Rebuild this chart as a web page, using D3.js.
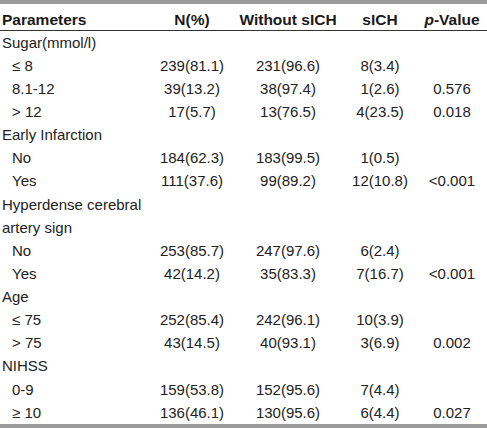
<!DOCTYPE html>
<html>
<head>
<meta charset="utf-8">
<script src="https://cdn.jsdelivr.net/npm/d3@7"></script>
<style>
  html, body { margin: 0; padding: 0; background: #fff; }
  svg { display: block; }
</style>
</head>
<body>
<svg id="chart" width="487" height="428"></svg>
<script>
// ---- data ----
const headers = ["Parameters", "N(%)", "Without sICH", "sICH", "p-Value"];
const labels = ["Sugar(mmol/l)", "≤ 8", "8.1-12", "> 12", "Early Infarction", "No", "Yes",
  "Hyperdense cerebral", "artery sign", "No", "Yes", "Age", "≤ 75", "> 75", "NIHSS", "0-9", "≥ 10"];
const indents = [0, 1, 1, 1, 0, 1, 1, 0, 0, 1, 1, 0, 1, 1, 0, 1, 1];
const nValues = ["", "239(81.1)", "39(13.2)", "17(5.7)", "", "184(62.3)", "111(37.6)", "", "",
  "253(85.7)", "42(14.2)", "", "252(85.4)", "43(14.5)", "", "159(53.8)", "136(46.1)"];
const withoutValues = ["", "231(96.6)", "38(97.4)", "13(76.5)", "", "183(99.5)", "99(89.2)", "", "",
  "247(97.6)", "35(83.3)", "", "242(96.1)", "40(93.1)", "", "152(95.6)", "130(95.6)"];
const sichValues = ["", "8(3.4)", "1(2.6)", "4(23.5)", "", "1(0.5)", "12(10.8)", "", "",
  "6(2.4)", "7(16.7)", "", "10(3.9)", "3(6.9)", "", "7(4.4)", "6(4.4)"];
const pValues = ["", "", "0.576", "0.018", "", "", "<0.001", "", "",
  "", "<0.001", "", "", "0.002", "", "", "0.027"];

// ---- layout ----
const W = 487, H = 428;
const svg = d3.select("#chart");

const y = d3.scalePoint().domain(d3.range(labels.length)).range([47.7, 417.7]);
const colX = d3.scaleOrdinal().domain(headers.slice(1)).range([192, 288, 380, 452]);
const indentX = d3.scaleOrdinal().domain([0, 1]).range([2, 12]);

const fontFamily = "'Liberation Sans', Arial, Helvetica, sans-serif";

// rules
svg.append("rect").attr("x", 0).attr("y", 0).attr("width", W).attr("height", 4).attr("fill", "#9b9b9b");
svg.append("line").attr("x1", 0).attr("x2", W).attr("y1", 30.5).attr("y2", 30.5)
  .attr("stroke", "#333").attr("stroke-width", 1);
svg.append("rect").attr("x", 0).attr("y", 424).attr("width", W).attr("height", 4).attr("fill", "#9b9b9b");

// header
const hdr = svg.append("g").attr("font-family", fontFamily).attr("font-weight", "bold")
  .attr("font-size", 15.5).attr("fill", "#1a1a1a");
hdr.append("text").attr("x", 2).attr("y", 25).text(headers[0]);
headers.slice(1).forEach(h => {
  const t = hdr.append("text").attr("x", colX(h)).attr("y", 25).attr("text-anchor", "middle");
  if (h === "p-Value") {
    t.append("tspan").attr("font-style", "italic").text("p");
    t.append("tspan").text("-Value");
  } else {
    t.text(h);
  }
});

// body
const body = svg.append("g").attr("font-family", fontFamily).attr("font-size", 15)
  .attr("fill", "#222");

body.selectAll("text.label").data(labels).join("text")
  .attr("class", "label")
  .attr("x", (d, i) => indentX(indents[i]))
  .attr("y", (d, i) => y(i))
  .text(d => d);

const cols = [nValues, withoutValues, sichValues, pValues];
cols.forEach((vals, ci) => {
  body.selectAll("text.c" + ci).data(vals).join("text")
    .attr("class", "c" + ci)
    .attr("x", colX(headers[ci + 1]))
    .attr("y", (d, i) => y(i))
    .attr("text-anchor", "middle")
    .text(d => d);
});
</script>
</body>
</html>
